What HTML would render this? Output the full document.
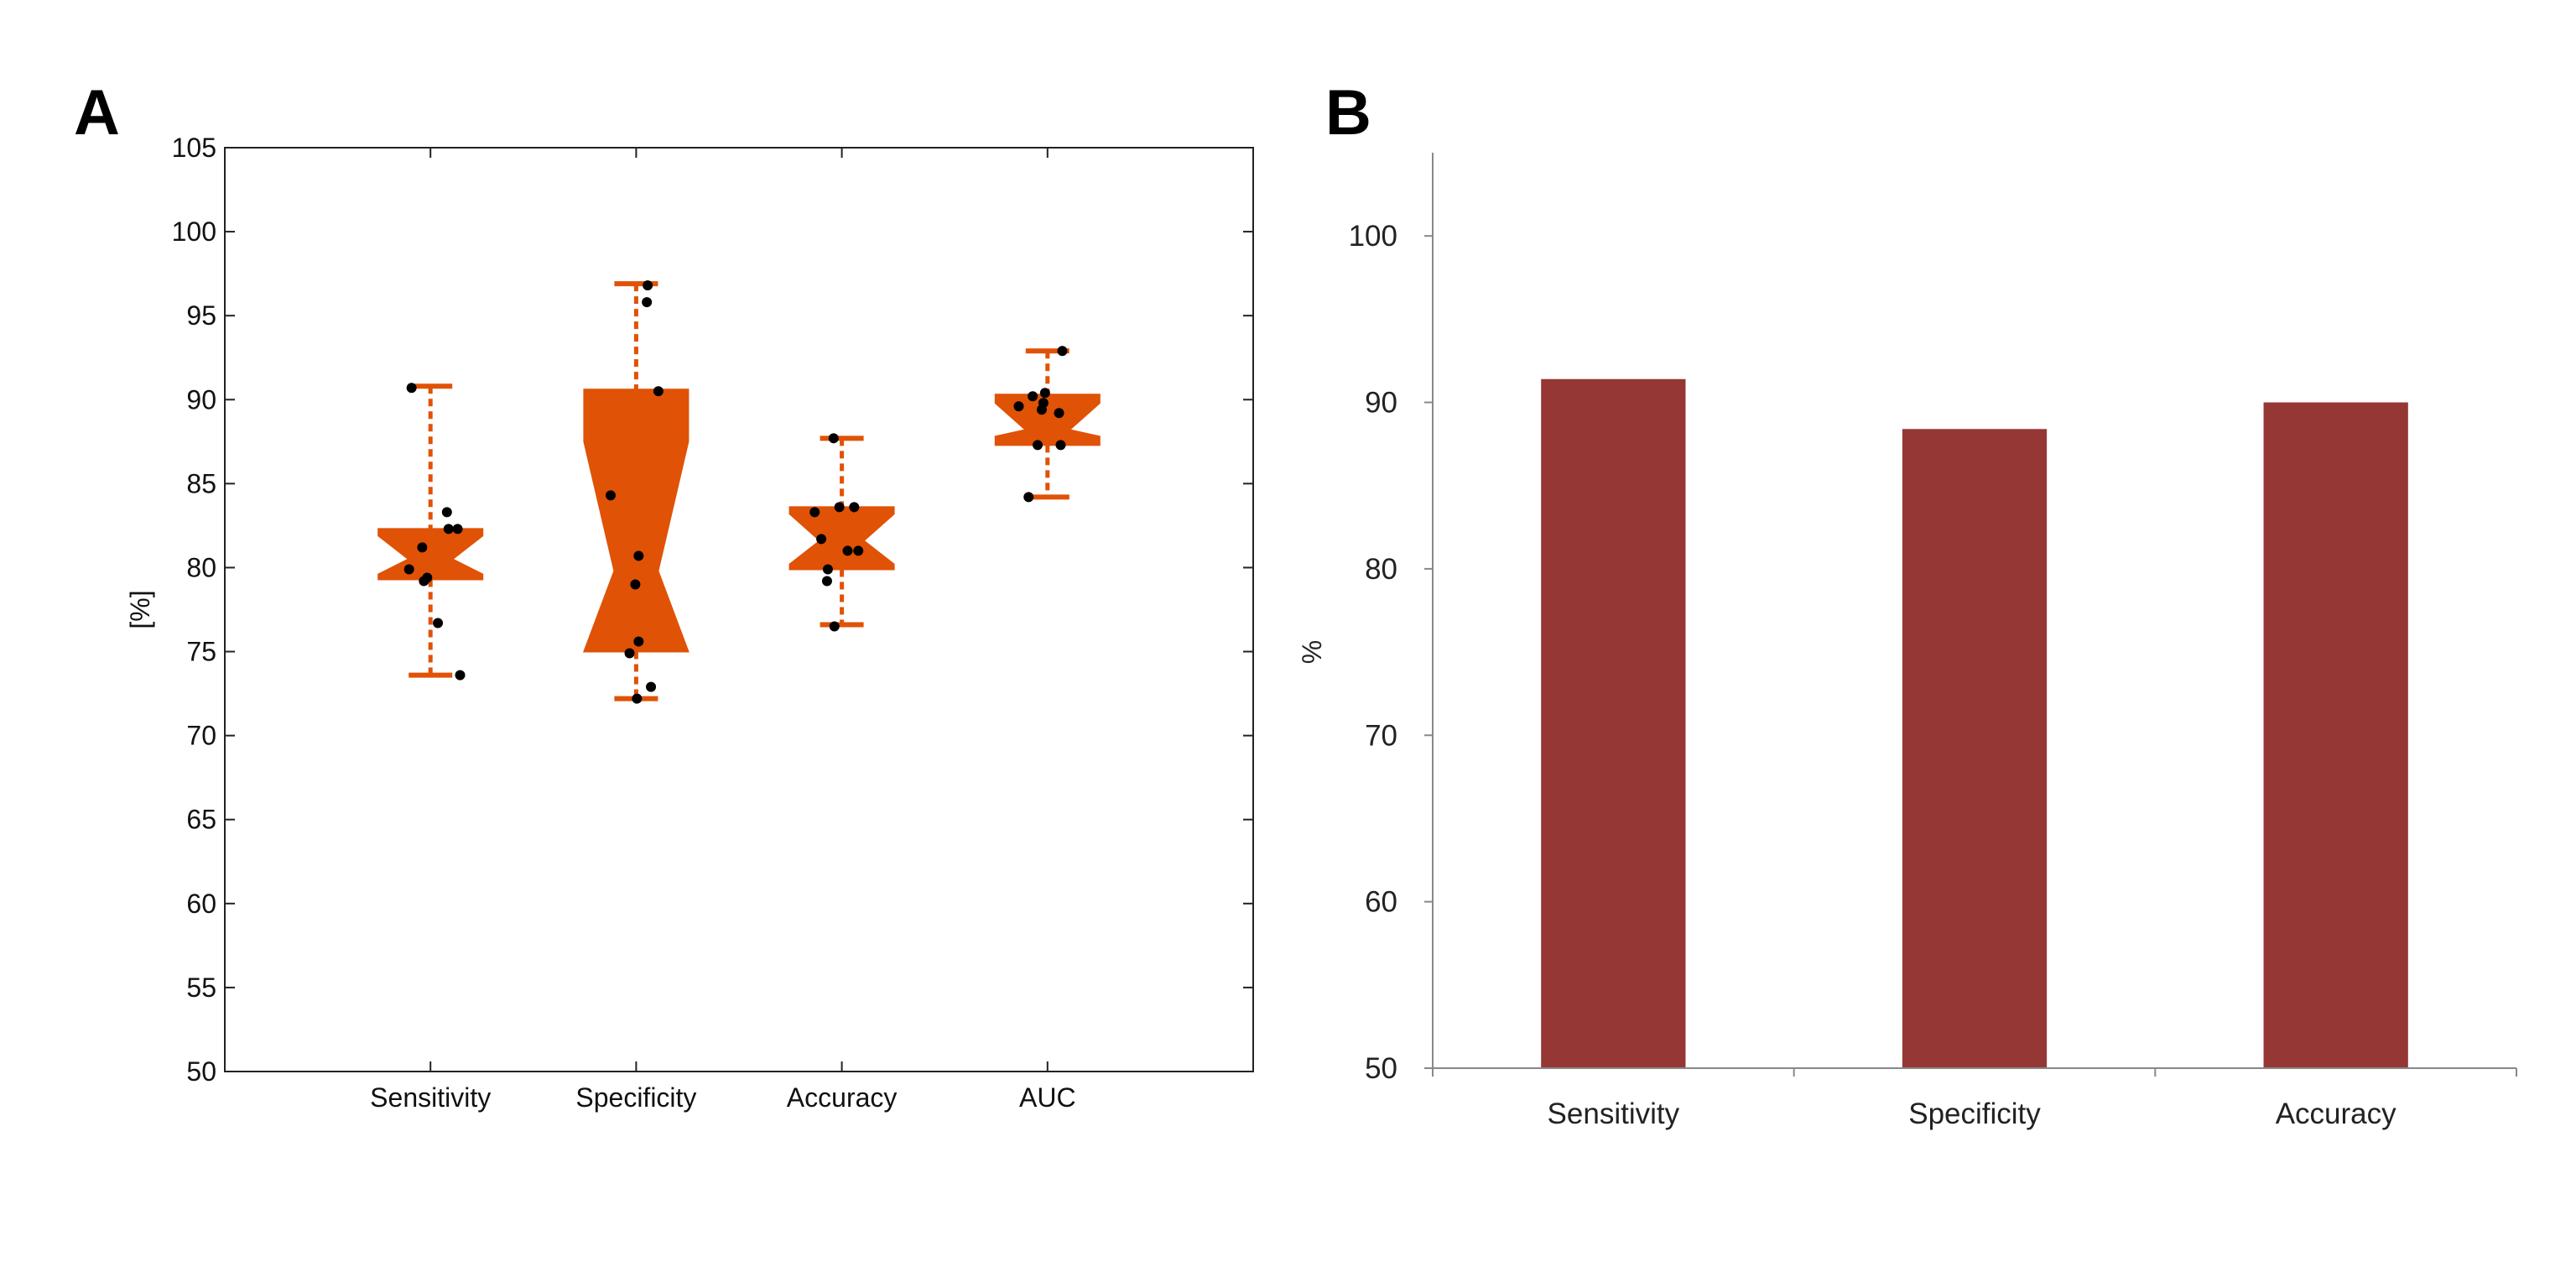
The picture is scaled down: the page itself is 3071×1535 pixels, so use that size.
<!DOCTYPE html>
<html><head><meta charset="utf-8"><style>
html,body{margin:0;padding:0;background:#fff;}
svg{display:block;}
</style></head><body>
<svg id="fig" width="3071" height="1535" viewBox="0 0 3071 1535" xmlns="http://www.w3.org/2000/svg">
<rect width="3071" height="1535" fill="#fff"/>
<text x="88" y="160" font-family="Liberation Sans, sans-serif" font-weight="bold" font-size="76">A</text>
<text x="1580" y="160" font-family="Liberation Sans, sans-serif" font-weight="bold" font-size="76">B</text>
<g id="pa"></g>
<g id="pb"></g>
</svg>
<script>
const NS="http://www.w3.org/2000/svg";
// ---- Panel A data ----
const boxCategories=["Sensitivity","Specificity","Accuracy","AUC"];
const whiskerLow=[73.6,72.2,76.6,84.2];
const whiskerHigh=[90.8,96.9,87.7,92.9];
const q1=[79.3,75.0,79.9,87.3];
const q3=[82.3,90.6,83.6,90.3];
const medians=[80.5,79.8,81.6,88.2];
const notchLow=[79.6,75.0,80.2,87.8];
const notchHigh=[81.9,87.5,83.2,89.8];
const pointsSens=[90.7,83.3,82.3,82.3,81.2,79.9,79.4,79.2,76.7,73.6];
const jitterSens=[-0.092,0.08,0.088,0.132,-0.04,-0.104,-0.016,-0.032,0.036,0.144];
const pointsSpec=[96.8,95.8,90.5,84.3,80.7,79.0,75.6,74.9,72.9,72.2];
const jitterSpec=[0.056,0.052,0.108,-0.124,0.012,-0.004,0.012,-0.032,0.072,0.004];
const pointsAcc=[87.7,83.3,83.6,83.6,81.7,81.0,81.0,79.9,79.2,76.5];
const jitterAcc=[-0.04,-0.132,-0.012,0.06,-0.1,0.028,0.08,-0.068,-0.072,-0.036];
const pointsAuc=[92.9,90.2,90.4,89.6,89.8,89.4,89.2,87.3,87.3,84.2];
const jitterAuc=[0.072,-0.072,-0.012,-0.14,-0.02,-0.028,0.056,-0.048,0.064,-0.092];
const yTicksA=[50,55,60,65,70,75,80,85,90,95,100,105];
// ---- Panel B data ----
const barCategories=["Sensitivity","Specificity","Accuracy"];
const barValues=[91.4,88.4,90.0];
const yTicksB=[50,60,70,80,90,100];

function mk(parent,tag,attrs,text){const e=document.createElementNS(NS,tag);for(const k in attrs)e.setAttribute(k,attrs[k]);if(text!==undefined)e.textContent=text;parent.appendChild(e);return e;}

// Panel A
const pa=document.getElementById('pa');
const AL=268,AR=1494,AT=176,AB=1277;
const ax=c=>AL+(c+1)*(AR-AL)/5;
const ay=v=>AB-(v-50)/(105-50)*(AB-AT);
const orange="#E05206";
const fA="Liberation Sans, Arial, sans-serif";
let e=mk(pa,'rect',{x:AL,y:AT,width:AR-AL,height:AB-AT,fill:'none',stroke:'#222','stroke-width':2});


yTicksA.forEach(v=>{
  const y=ay(v);
  mk(pa,'line',{x1:AL,x2:AL+12,y1:y,y2:y,stroke:'#222','stroke-width':2});
  mk(pa,'line',{x1:AR,x2:AR-12,y1:y,y2:y,stroke:'#222','stroke-width':2});
  e=mk(pa,'text',{x:AL-10,y:y+11,'text-anchor':'end','font-family':fA,'font-size':32,fill:'#111'},String(v));
  
  
});
e=mk(pa,'text',{x:0,y:0,transform:`translate(178,${ay(77.5)}) rotate(-90)`,'text-anchor':'middle','font-family':fA,'font-size':32,fill:'#111'},'[%]');


const ptsAll=[pointsSens,pointsSpec,pointsAcc,pointsAuc];
const jitAll=[jitterSens,jitterSpec,jitterAcc,jitterAuc];
const colW=(AR-AL)/5;
const hw=62,nw=26,cw=26;
boxCategories.forEach((name,i)=>{
  const cx=ax(i);
  mk(pa,'line',{x1:cx,x2:cx,y1:AB,y2:AB-12,stroke:'#222','stroke-width':2});
  mk(pa,'line',{x1:cx,x2:cx,y1:AT,y2:AT+12,stroke:'#222','stroke-width':2});
  e=mk(pa,'text',{x:cx,y:AB+42,'text-anchor':'middle','font-family':fA,'font-size':32,fill:'#111'},name);
  
  
  const g=mk(pa,'g',{});
  
  
  mk(g,'line',{x1:cx,x2:cx,y1:ay(whiskerHigh[i]),y2:ay(q3[i]),stroke:orange,'stroke-width':5,'stroke-dasharray':'9,6'});
  mk(g,'line',{x1:cx,x2:cx,y1:ay(q1[i]),y2:ay(whiskerLow[i]),stroke:orange,'stroke-width':5,'stroke-dasharray':'9,6'});
  mk(g,'line',{x1:cx-cw,x2:cx+cw,y1:ay(whiskerHigh[i]),y2:ay(whiskerHigh[i]),stroke:orange,'stroke-width':6});
  mk(g,'line',{x1:cx-cw,x2:cx+cw,y1:ay(whiskerLow[i]),y2:ay(whiskerLow[i]),stroke:orange,'stroke-width':6});
  const p=[[cx-hw,ay(q3[i])],[cx+hw,ay(q3[i])],[cx+hw,ay(notchHigh[i])],[cx+nw,ay(medians[i])],[cx+hw,ay(notchLow[i])],[cx+hw,ay(q1[i])],
           [cx-hw,ay(q1[i])],[cx-hw,ay(notchLow[i])],[cx-nw,ay(medians[i])],[cx-hw,ay(notchHigh[i])]];
  mk(g,'polygon',{points:p.map(q=>q.join(',')).join(' '),fill:orange,stroke:orange,'stroke-width':2});
  ptsAll[i].forEach((v,j)=>{
    const d=mk(g,'circle',{cx:cx+jitAll[i][j]*colW,cy:ay(v),r:6,fill:'#000'});
    
    
  });
});

// Panel B
const pb=document.getElementById('pb');
const BL=1708,BR=3000,BT=182,BB=1273;
const by=v=>BB-(v-50)/(105-50)*(BB-BT);
const bw=(BR-BL)/barCategories.length;
const fB="Liberation Sans, Arial, sans-serif";
barCategories.forEach((name,i)=>{
  const cx=BL+bw*(i+0.5);
  const r=mk(pb,'rect',{x:cx-bw*0.2,y:by(barValues[i]),width:bw*0.4,height:BB-by(barValues[i]),fill:'#953735'});
  
  
  e=mk(pb,'text',{x:cx,y:BB+66,'text-anchor':'middle','font-family':fB,'font-size':35,fill:'#222'},name);
  
  
});
for(let i=0;i<=barCategories.length;i++){
  const x=BL+bw*i;
  mk(pb,'line',{x1:x,x2:x,y1:BB,y2:BB+10,stroke:'#888','stroke-width':2});
}
mk(pb,'line',{x1:BL,x2:BL,y1:BT,y2:BB,stroke:'#888','stroke-width':2});
mk(pb,'line',{x1:BL,x2:BR,y1:BB,y2:BB,stroke:'#888','stroke-width':2});
yTicksB.forEach(v=>{
  const y=by(v);
  mk(pb,'line',{x1:BL-10,x2:BL,y1:y,y2:y,stroke:'#888','stroke-width':2});
  e=mk(pb,'text',{x:BL-42,y:y+12,'text-anchor':'end','font-family':fB,'font-size':35,fill:'#222'},String(v));
  
  
});
e=mk(pb,'text',{x:0,y:0,transform:`translate(1575,${by(75)}) rotate(-90)`,'text-anchor':'middle','font-family':fB,'font-size':32,fill:'#222'},'%');


</script>
</body></html>
